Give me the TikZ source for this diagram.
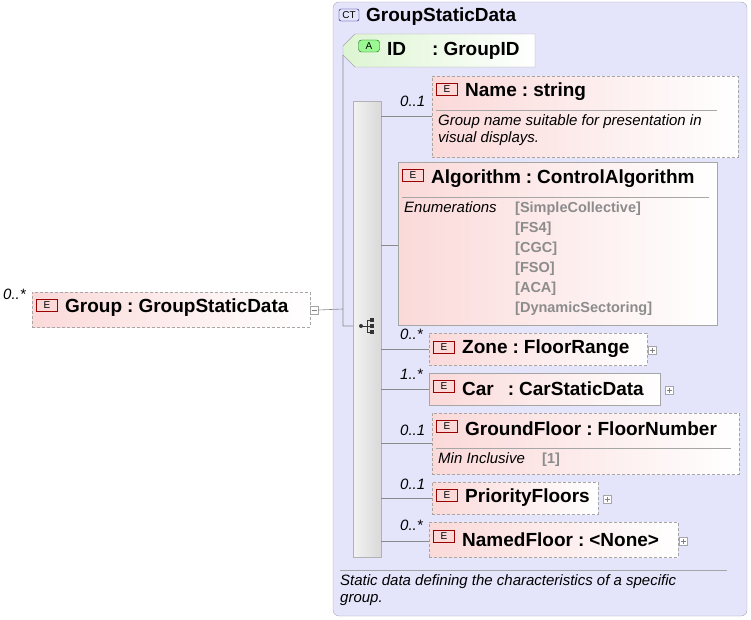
\documentclass[tikz,border=0pt]{standalone}
\usepackage{fontspec}
\setmainfont{Liberation Sans}
\usetikzlibrary{positioning,shapes.misc}
\definecolor{ctfill}{HTML}{E4E4FA}
\definecolor{ctline}{HTML}{A8A8B8}
\definecolor{elpink}{HTML}{FBD9D9}
\definecolor{attgreen}{HTML}{DDF5D2}
\definecolor{enumgray}{HTML}{8C8C8C}
\definecolor{wire}{HTML}{8A8A8A}
\tikzset{
  elem/.style={draw=gray!70, left color=elpink, right color=white, anchor=north west, inner sep=0pt},
  opt/.style={elem, dashed, dash pattern=on 3pt off 2pt},
  title/.style={anchor=west, inner sep=0pt, font=\bfseries\fontsize{19}{22}\selectfont},
  mult/.style={font=\itshape\fontsize{15}{17}\selectfont, anchor=south west, inner sep=0pt},
  badge/.style={draw=red!60!black, fill=elpink, minimum width=21pt, minimum height=12pt,
    inner sep=0pt, font=\fontsize{10}{10}\selectfont},
  plusbox/.style={draw=gray!70, fill=white, minimum size=8pt, inner sep=0pt,
    path picture={\draw[gray] ([xshift=-2.5pt]path picture bounding box.center) -- ([xshift=2.5pt]path picture bounding box.center)
      ([yshift=-2.5pt]path picture bounding box.center) -- ([yshift=2.5pt]path picture bounding box.center);}},
  minusbox/.style={draw=gray!70, fill=white, minimum size=8pt, inner sep=0pt,
    path picture={\draw[gray] ([xshift=-2.5pt]path picture bounding box.center) -- ([xshift=2.5pt]path picture bounding box.center);}},
  wireline/.style={draw=wire, line width=0.6pt},
  desc/.style={font=\itshape\fontsize{15}{17.5}\selectfont, anchor=north west, inner sep=0pt, align=left},
  enum/.style={font=\bfseries\fontsize{14.5}{16}\selectfont, text=enumgray, anchor=west, inner sep=0pt}
}
\newcommand{\ebadge}[2]{\node[badge] at (#1,#2) {E};}
\newcommand{\ofty}{\hspace{5pt}:\hspace{5pt}}
\begin{document}
\begin{tikzpicture}[x=1pt,y=-1pt]
\useasboundingbox (0,0) rectangle (751,620);
% complex type frame
\draw[ctline, fill=ctfill, rounded corners=6pt] (333,2) rectangle (747,616);
\node[draw=blue!50!black, fill=ctfill, rounded corners=2pt, minimum width=20pt, minimum height=12pt,
  inner sep=0pt, font=\fontsize{10}{10}\selectfont] (ctbadge) at (349,15) {CT};
\node[title] (ctname) at (366,17) {GroupStaticData};
% group element
\node[mult] (mgroup) at (3,300) {0..*};
\node[opt, minimum width=278pt, minimum height=35pt] (group) at (32,292) {};
\ebadge{47}{305}
\node[title] at (65,308) {Group\ofty GroupStaticData};
\node[minusbox] (gminus) at (314,310) {};
% attribute
\draw[draw=gray!70, left color=attgreen, right color=white] (355,34) -- (535,34) -- (535,67) -- (355,67) -- (343,55) -- (343,46) -- cycle;
\node[draw=green!40!black, fill=attgreen!70!green, rounded corners=3pt, minimum width=21pt, minimum height=12pt,
  inner sep=0pt, font=\fontsize{10}{10}\selectfont] (abadge) at (369,46) {A};
\node[title] (id) at (387,51) {ID\hspace{26pt}:\hspace{5pt}GroupID};
% sequence bar
\node[draw=gray!60, left color=gray!10, right color=gray!30, anchor=north west, minimum width=28pt,
  minimum height=456pt, inner sep=0pt] (seq) at (353,101) {};
\fill[black!80] (361,326) circle (2pt);
\draw[black!80, line width=0.8pt] (361,326) -- (367,326) (367,320) -- (367,332)
  (367,320) -- (371,320) (367,326) -- (371,326) (367,332) -- (371,332);
\foreach \yy in {320,326,332} \fill[black!80] (370,\yy-2) rectangle (374,\yy+2);
% wires from group
\coordinate (spine) at (343,309);
\draw[wireline] (gminus.east) -- (spine) (343,55) -- (343,326) -- (353,326);
% children
\node[opt, minimum width=306pt, minimum height=81pt] (name) at (432,76) {};
\ebadge{447}{89}
\node[title] at (465,92) {Name\ofty string};
\draw[gray!70] (436,110) -- (717,110);
\node[desc] at (438,114) {Group name suitable for presentation in\\visual displays.};
\node[mult] at (400,107) {0..1};
\draw[wireline] (381,116) -- (432,116);

\node[elem, minimum width=319pt, minimum height=163pt] (algo) at (398,162) {};
\ebadge{413}{175}
\node[title] at (431,179) {Algorithm\ofty ControlAlgorithm};
\draw[gray!70] (402,197) -- (709,197);
\node[desc] at (404,201) {Enumerations};
\foreach \ev [count=\i from 0] in {[SimpleCollective],[FS4],[CGC],[FSO],[ACA],[DynamicSectoring]}
  \node[enum] at (515,209+20*\i) {\ev};
\draw[wireline] (381,245) -- (398,245);

\node[opt, minimum width=218pt, minimum height=32pt] (zone) at (429,333) {};
\ebadge{444}{347}
\node[title] at (462,349) {Zone\ofty FloorRange};
\node[plusbox] at (652,350) {};
\node[mult] at (400,340) {0..*};
\draw[wireline] (381,349) -- (429,349);

\node[elem, minimum width=231pt, minimum height=32pt] (car) at (429,373) {};
\ebadge{444}{386}
\node[title] at (462,389) {Car\hspace{14pt}:\hspace{5pt}CarStaticData};
\node[plusbox] at (669,390) {};
\node[mult] at (400,380) {1..*};
\draw[wireline] (381,389) -- (429,389);

\node[opt, minimum width=307pt, minimum height=61pt] (ground) at (432,413) {};
\ebadge{447}{426}
\node[title] at (465,429) {GroundFloor\ofty FloorNumber};
\draw[gray!70] (436,448) -- (731,448);
\node[desc] at (438,452) {Min Inclusive};
\node[enum] at (542,460) {[1]};
\node[mult] at (400,436) {0..1};
\draw[wireline] (381,443) -- (432,443);

\node[opt, minimum width=166pt, minimum height=32pt] (prio) at (432,482) {};
\ebadge{447}{495}
\node[title] at (465,498) {PriorityFloors};
\node[plusbox] at (607,499) {};
\node[mult] at (400,490) {0..1};
\draw[wireline] (381,498) -- (432,498);

\node[opt, minimum width=249pt, minimum height=35pt] (named) at (429,522) {};
\ebadge{444}{536}
\node[title] at (462,540) {NamedFloor\ofty <None>};
\node[plusbox] at (683,541) {};
\node[mult] at (400,531) {0..*};
\draw[wireline] (381,541) -- (429,541);
% documentation
\draw[gray!70] (340,570) -- (727,570);
\node[desc] at (340,574) {Static data defining the characteristics of a specific\\group.};
\end{tikzpicture}
\end{document}
